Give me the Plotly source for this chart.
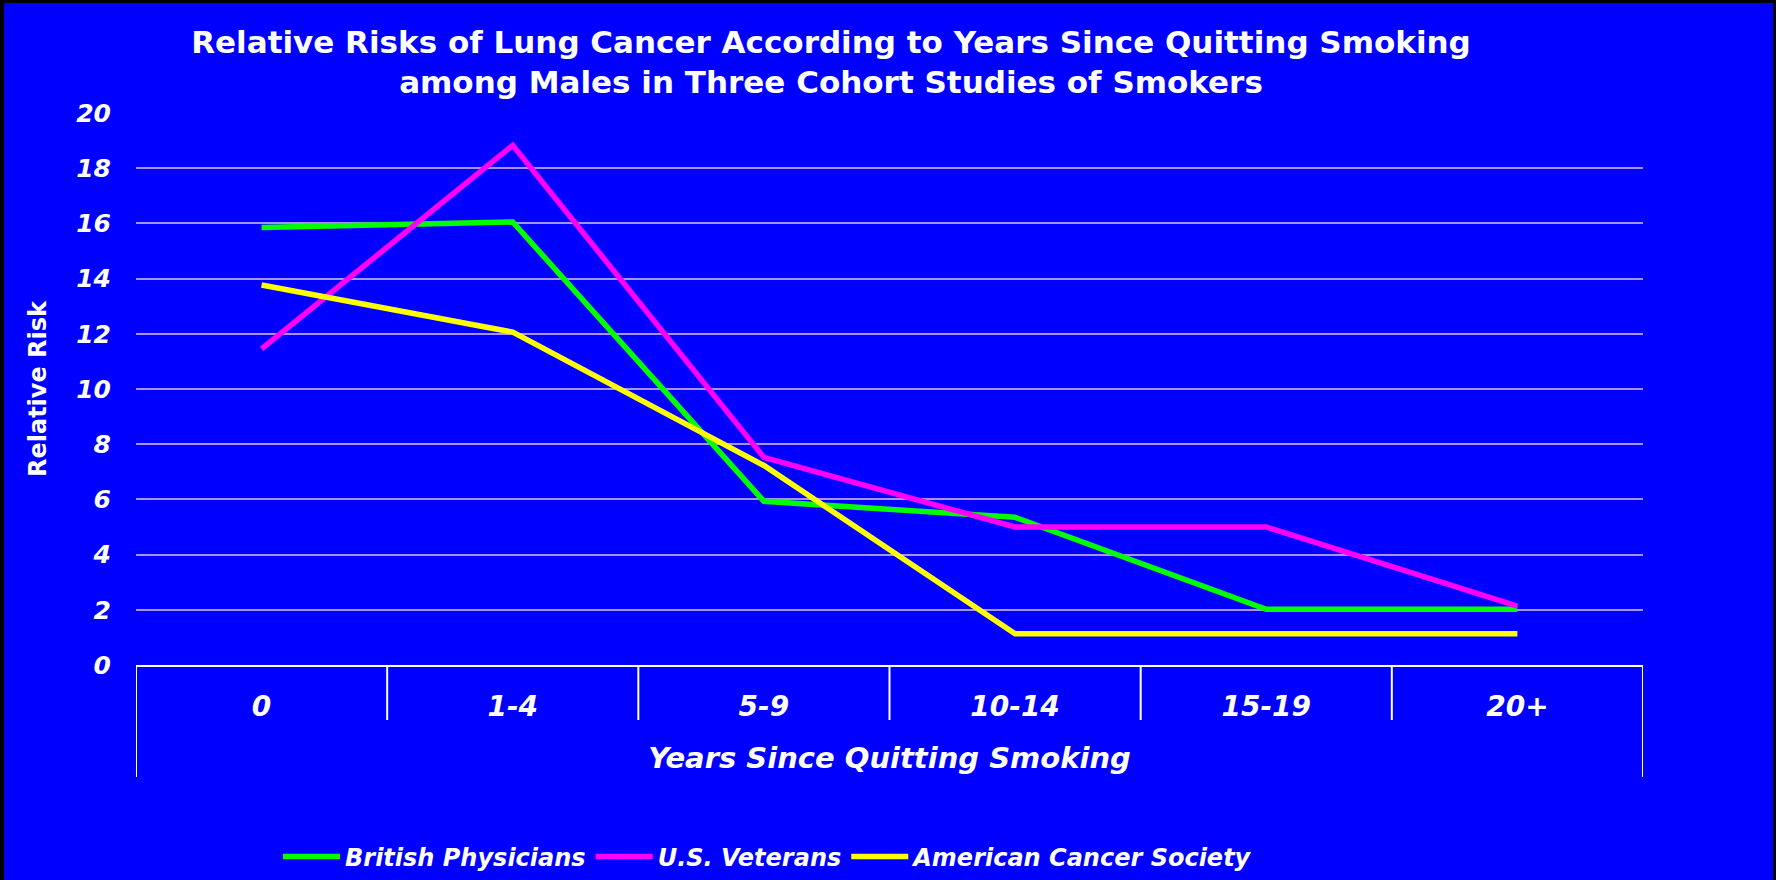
import plotly.graph_objects as go

categories = ["0", "1-4", "5-9", "10-14", "15-19", "20+"]
british = [15.85, 16.05, 5.93, 5.35, 2.02, 2.02]
veterans = [11.45, 18.83, 7.52, 5.0, 5.0, 2.13]
acs = [13.77, 12.06, 7.23, 1.13, 1.13, 1.13]
series_names = ["British Physicians", "U.S. Veterans", "American Cancer Society"]
series_values = [british, veterans, acs]
series_colors = ["#00FF00", "#FF00FF", "#FFFF00"]
y_ticks = list(range(0, 21, 2))

W, H = 1776, 880
L, R, T, B = 136, 1643, 113, 665
FONT = "DejaVu Sans"

fig = go.Figure()
for name, vals, col in zip(series_names, series_values, series_colors):
    fig.add_trace(go.Scatter(x=categories, y=vals, name=name, mode="lines",
                             line=dict(color=col, width=5.5)))

def px_x(px):
    return (px - L) / (R - L)

def px_y(py):
    return (B - py) / (B - T)

shapes = []
# category dividers
for i in range(len(categories) + 1):
    xb = i - 0.5
    outer = i == 0 or i == len(categories)
    shapes.append(dict(type="line", xref="x", yref="paper", x0=xb, x1=xb,
                       y0=0, y1=px_y(777 if outer else 720),
                       line=dict(color="white", width=2)))
# black frame strips
shapes.append(dict(type="rect", xref="paper", yref="paper", x0=px_x(0), x1=px_x(4),
                   y0=px_y(880), y1=px_y(0), fillcolor="black", line=dict(width=0)))
shapes.append(dict(type="rect", xref="paper", yref="paper", x0=px_x(0), x1=px_x(1776),
                   y0=px_y(3), y1=px_y(0), fillcolor="black", line=dict(width=0)))
shapes.append(dict(type="rect", xref="paper", yref="paper", x0=px_x(1773), x1=px_x(1776),
                   y0=px_y(880), y1=px_y(0), fillcolor="black", line=dict(width=0)))

fig.update_layout(
    width=W, height=H,
    margin=dict(l=L, r=W - R, t=T, b=H - B, pad=0),
    paper_bgcolor="#0000FF", plot_bgcolor="#0000FF",
    title=dict(text="Relative Risks of Lung Cancer According to Years Since Quitting Smoking<br>among Males in Three Cohort Studies of Smokers",
               x=831 / W, xanchor="center", xref="container",
               y=1 - 53 / H, yanchor="middle", yref="container",
               font=dict(family=FONT, size=31, color="white", weight="bold")),
    xaxis=dict(type="category", range=[-0.5, len(categories) - 0.5],
               showgrid=False, showline=True, linecolor="white", linewidth=2,
               ticks="", ticklabelstandoff=15,
               tickfont=dict(family=FONT, size=28, color="white", weight="bold", style="italic"),
               title=dict(text="Years Since Quitting Smoking", standoff=26,
                          font=dict(family=FONT, size=29, color="white", weight="bold", style="italic"))),
    yaxis=dict(range=[0, 20], tickvals=y_ticks, showgrid=True, gridcolor="#A890FF", gridwidth=2,
               zeroline=False, showline=False, ticks="", ticklabelstandoff=24,
               tickfont=dict(family=FONT, size=25, color="white", weight="bold", style="italic"),
               title=dict(text="Relative Risk", standoff=22,
                          font=dict(family=FONT, size=24, color="white", weight="bold"))),
    legend=dict(orientation="h", xref="container", yref="container",
                x=278 / W, xanchor="left", y=1 - 857 / H, yanchor="middle",
                bgcolor="rgba(0,0,0,0)", itemwidth=57,
                font=dict(family=FONT, size=24, color="white", weight="bold", style="italic")),
    shapes=shapes,
    showlegend=True,
)

fig.write_html("out.html", config={"displayModeBar": False},
               post_script="document.body.style.margin='0';document.body.style.padding='0';")
